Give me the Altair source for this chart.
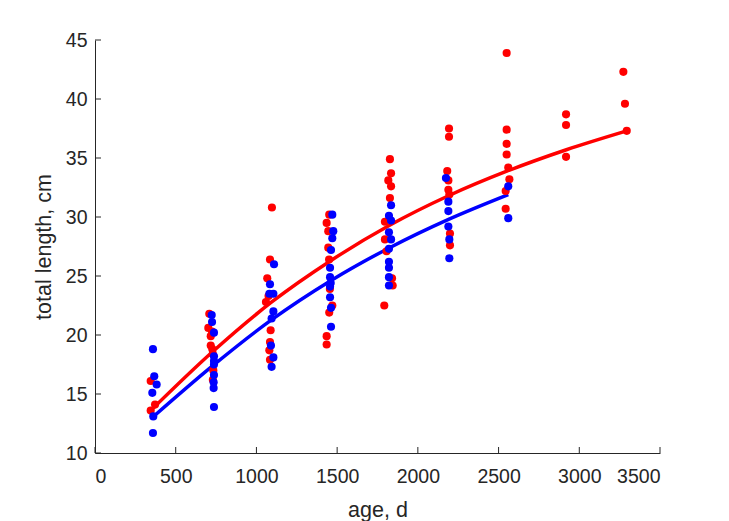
import altair as alt
import pandas as pd

# ---- data ----
red_age = [345, 372, 345,
           708, 702, 725, 717, 717, 727, 730, 733, 730,
           1096, 1084, 1067, 1075, 1059, 1088, 1084, 1080, 1084,
           1451, 1435, 1445, 1445, 1450, 1455, 1470, 1451, 1435, 1435,
           1827, 1834, 1817, 1834, 1827, 1796, 1796, 1806, 1844, 1840, 1792,
           2193, 2193, 2182, 2189, 2189, 2195, 2199, 2199,
           2550, 2550, 2550, 2550, 2560, 2567, 2544, 2544,
           2918, 2918, 2918,
           3273, 3283, 3294]
red_len = [16.1, 14.1, 13.6,
           21.8, 20.6, 20.3, 19.9, 19.1, 18.8, 18.4, 17.0, 16.2,
           30.8, 26.4, 24.8, 23.3, 22.8, 20.4, 19.4, 18.7, 17.9,
           30.2, 29.5, 28.8, 27.4, 26.4, 23.9, 22.5, 21.9, 19.9, 19.2,
           34.9, 33.7, 33.1, 32.6, 31.6, 29.6, 28.1, 27.1, 24.2, 24.8, 22.5,
           37.5, 36.8, 33.9, 33.1, 32.3, 31.9, 28.6, 27.6,
           43.9, 37.4, 36.2, 35.3, 34.2, 33.2, 32.2, 30.7,
           38.7, 37.8, 35.1,
           42.3, 39.6, 37.3]

blue_age = [359, 367, 382, 355, 361, 359,
            723, 725, 737, 737, 737, 737, 737, 735, 735, 737,
            1109, 1084, 1080, 1105, 1105, 1094, 1090, 1105, 1094,
            1470, 1476, 1470, 1462, 1456, 1456, 1460, 1456, 1456, 1462, 1462,
            1834, 1821, 1834, 1821, 1834, 1821, 1821, 1821, 1821, 1821,
            2174, 2189, 2189, 2189, 2195, 2195,
            2560, 2560]
blue_len = [18.8, 16.5, 15.8, 15.1, 13.1, 11.7,
            21.7, 21.1, 20.2, 18.2, 17.8, 17.5, 16.6, 16.0, 15.5, 13.9,
            26.0, 24.3, 23.5, 23.5, 22.0, 21.4, 19.1, 18.1, 17.3,
            30.2, 28.8, 28.2, 27.2, 25.7, 24.9, 24.4, 24.1, 23.2, 22.3, 20.7,
            31.0, 30.1, 29.7, 28.7, 28.1, 27.3, 26.2, 25.7, 24.9, 24.2,
            33.3, 31.3, 30.5, 29.2, 28.1, 26.5,
            32.6, 29.9]

red_fit_age = [345, 730, 1095, 1460, 1825, 2190, 2555, 2920, 3294]
red_fit_len = [13.6, 18.6, 22.8, 26.3, 29.3, 31.8, 33.9, 35.7, 37.3]
blue_fit_age = [355, 730, 1095, 1460, 1825, 2190, 2560]
blue_fit_len = [13.0, 17.4, 21.3, 24.6, 27.4, 29.8, 31.9]

x_ticks = [0, 500, 1000, 1500, 2000, 2500, 3000, 3500]
y_ticks = [10, 15, 20, 25, 30, 35, 40, 45]

RED = "#FF0000"
BLUE = "#0000FF"
AX = "#262626"
W, H = 565, 413
FONT = "Liberation Sans"

red_df = pd.DataFrame({"age": red_age, "len": red_len})
blue_df = pd.DataFrame({"age": blue_age, "len": blue_len})
red_fit = pd.DataFrame({"age": red_fit_age, "len": red_fit_len})
blue_fit = pd.DataFrame({"age": blue_fit_age, "len": blue_fit_len})
xt_df = pd.DataFrame({"age": x_ticks})
yt_df = pd.DataFrame({"len": y_ticks})

xscale = alt.Scale(domain=[0, 3500], nice=False, zero=False)
yscale = alt.Scale(domain=[10, 45], nice=False, zero=False)

xaxis = alt.Axis(values=x_ticks, title="age, d", grid=False, ticks=False, tickSize=0,
                 labelPadding=14, format="d",
                 titleY=46, titleBaseline="top")
yaxis = alt.Axis(values=y_ticks, title="total length, cm", grid=False, ticks=False, tickSize=0,
                 labelPadding=8, format="d",
                 titleX=-51, titleY=H / 2, titleAngle=-90, titleAlign="center",
                 titleBaseline="middle")

X = alt.X("age:Q", scale=xscale, axis=xaxis)
Y = alt.Y("len:Q", scale=yscale, axis=yaxis)

red_line = alt.Chart(red_fit).mark_line(color=RED, strokeWidth=3.5, interpolate="monotone").encode(x=X, y=Y)
blue_line = alt.Chart(blue_fit).mark_line(color=BLUE, strokeWidth=3.5, interpolate="monotone").encode(x=X, y=Y)
red_pts = alt.Chart(red_df).mark_circle(color=RED, size=66, opacity=1).encode(x=X, y=Y)
blue_pts = alt.Chart(blue_df).mark_circle(color=BLUE, size=66, opacity=1).encode(x=X, y=Y)

xticks = alt.Chart(xt_df).mark_rule(color=AX, strokeWidth=1).encode(
    x=X, y=alt.value(H), y2=alt.value(H - 6))
yticks = alt.Chart(yt_df).mark_rule(color=AX, strokeWidth=1).encode(
    y=Y, x=alt.value(0), x2=alt.value(6))

chart = alt.layer(xticks, yticks, red_line, blue_line, red_pts, blue_pts).properties(
    width=W, height=H,
    autosize=alt.AutoSizeParams(type="none"),
    padding={"left": 95, "top": 40, "right": 69, "bottom": 68},
    background="white",
).configure_view(stroke=None).configure_axis(
    domainColor=AX, domainWidth=1, labelColor=AX, titleColor=AX,
    labelFont=FONT, titleFont=FONT, labelFontSize=19.5, titleFontSize=21.5,
    titleFontWeight="normal",
)

chart.save("out.html", embed_options={"renderer": "svg", "actions": False})
